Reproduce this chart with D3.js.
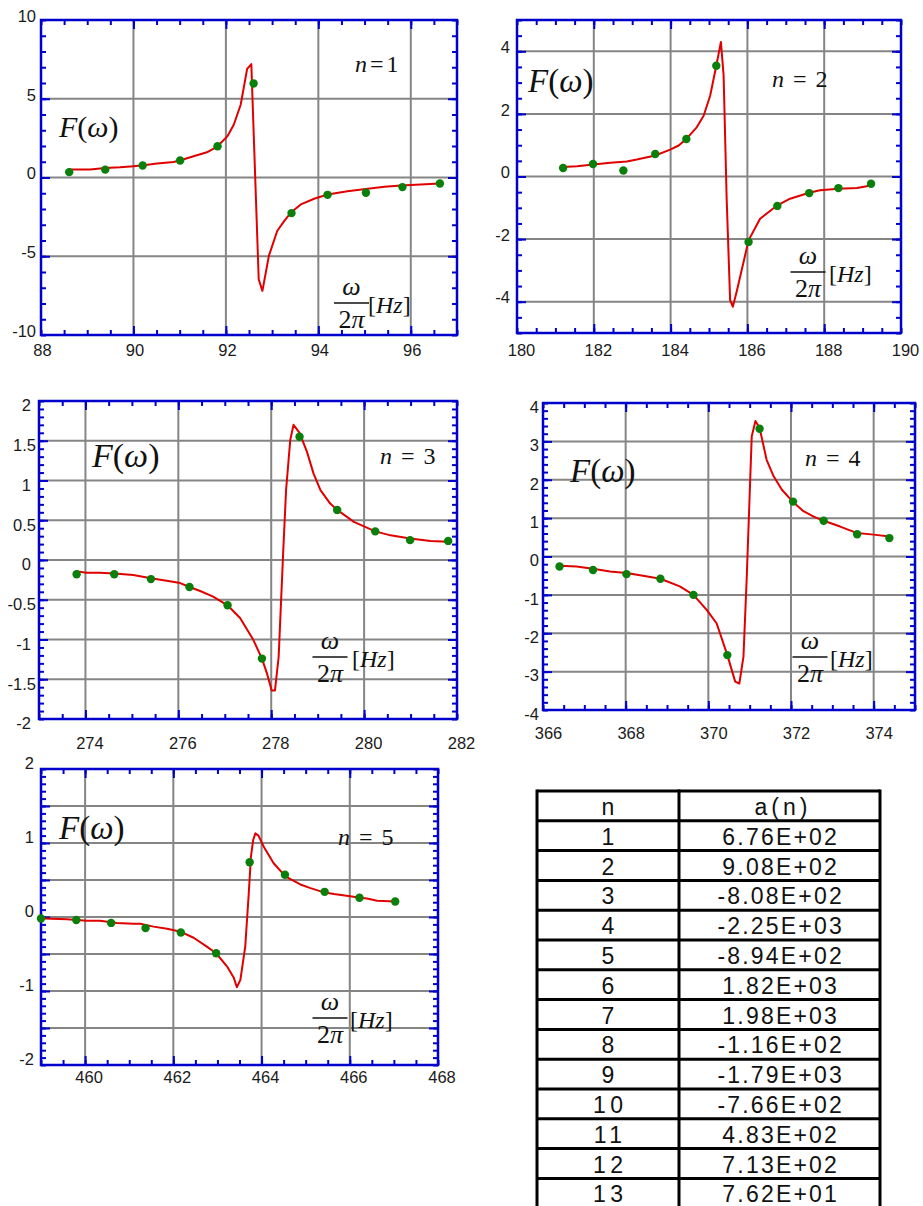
<!DOCTYPE html>
<html><head><meta charset="utf-8">
<script src="https://cdn.jsdelivr.net/npm/d3@7/dist/d3.min.js"></script>
<style>
html,body{margin:0;padding:0;background:#fff;}
svg{display:block;}
</style></head><body>
<svg id="chart" width="923" height="1206"></svg>
<script>
// ---------------- data ----------------
const p1DotX = [88.61, 89.39, 90.20, 91.01, 91.82, 92.60, 93.42, 94.20, 95.03, 95.82, 96.63];
const p1DotY = [0.34, 0.50, 0.76, 1.08, 1.98, 5.97, -2.26, -1.10, -0.97, -0.61, -0.38];
const p1FitX = [88.61, 89.06, 89.39, 89.71, 90.00, 90.22, 90.51, 90.87, 91.02, 91.30, 91.59, 91.82, 92.03, 92.17, 92.32, 92.46, 92.55, 92.71, 92.79, 92.93, 93.11, 93.26, 93.42, 93.62, 93.91, 94.20, 94.63, 95.07, 95.43, 95.79, 96.63];
const p1FitY = [0.51, 0.51, 0.61, 0.65, 0.72, 0.78, 0.89, 0.99, 1.10, 1.35, 1.60, 1.98, 2.61, 3.35, 4.62, 6.90, 7.20, -6.46, -7.20, -4.98, -3.40, -2.77, -2.19, -1.71, -1.35, -1.08, -0.87, -0.72, -0.59, -0.51, -0.38];

const p2DotX = [181.20, 181.98, 182.77, 183.60, 184.41, 185.19, 186.03, 186.78, 187.61, 188.37, 189.22];
const p2DotY = [0.27, 0.40, 0.19, 0.72, 1.20, 3.54, -2.09, -0.94, -0.53, -0.37, -0.23];
const p2FitX = [181.20, 181.56, 181.99, 182.43, 182.86, 183.12, 183.60, 183.99, 184.21, 184.41, 184.68, 184.86, 185.03, 185.19, 185.31, 185.38, 185.46, 185.55, 185.62, 185.72, 185.90, 186.03, 186.33, 186.78, 187.11, 187.61, 187.89, 188.37, 188.85, 189.22];
const p2FitY = [0.30, 0.33, 0.38, 0.44, 0.48, 0.54, 0.67, 0.86, 0.99, 1.20, 1.57, 1.94, 2.58, 3.54, 4.30, 3.24, -0.71, -3.95, -4.16, -3.68, -2.73, -2.04, -1.35, -0.92, -0.71, -0.52, -0.44, -0.39, -0.37, -0.29];

const p3DotX = [273.81, 274.62, 275.41, 276.24, 277.06, 277.80, 278.61, 279.42, 280.24, 280.99, 281.81];
const p3DotY = [-0.18, -0.18, -0.24, -0.34, -0.57, -1.24, 1.55, 0.63, 0.36, 0.25, 0.24];
const p3FitX = [273.79, 274.02, 274.31, 274.62, 275.03, 275.41, 275.75, 276.04, 276.24, 276.47, 276.75, 277.06, 277.33, 277.62, 277.80, 277.91, 278.01, 278.08, 278.16, 278.26, 278.32, 278.41, 278.48, 278.61, 278.77, 278.91, 279.06, 279.27, 279.42, 279.78, 280.24, 280.57, 280.99, 281.43, 281.81];
const p3FitY = [-0.14, -0.16, -0.16, -0.17, -0.19, -0.23, -0.26, -0.29, -0.34, -0.39, -0.46, -0.57, -0.73, -1.01, -1.24, -1.43, -1.64, -1.64, -1.22, 0.13, 0.88, 1.51, 1.70, 1.60, 1.36, 1.09, 0.88, 0.71, 0.63, 0.48, 0.36, 0.31, 0.27, 0.24, 0.23];

const p4DotX = [366.40, 367.21, 368.02, 368.84, 369.64, 370.46, 371.24, 372.05, 372.79, 373.60, 374.38];
const p4DotY = [-0.26, -0.35, -0.46, -0.58, -1.00, -2.57, 3.33, 1.43, 0.93, 0.58, 0.48];
const p4FitX = [366.40, 366.81, 367.21, 367.62, 368.02, 368.42, 368.84, 369.31, 369.64, 369.96, 370.20, 370.46, 370.65, 370.75, 370.85, 370.93, 371.05, 371.14, 371.24, 371.41, 371.58, 371.78, 372.04, 372.30, 372.55, 372.79, 373.19, 373.60, 374.00, 374.38];
const p4FitY = [-0.24, -0.26, -0.32, -0.39, -0.43, -0.50, -0.58, -0.78, -1.00, -1.39, -1.74, -2.57, -3.26, -3.31, -2.61, -0.52, 3.13, 3.53, 3.35, 2.52, 2.09, 1.74, 1.43, 1.18, 1.04, 0.93, 0.78, 0.61, 0.57, 0.52];

const p5DotX = [459.00, 459.80, 460.59, 461.37, 462.17, 462.97, 463.73, 464.53, 465.43, 466.22, 467.03];
const p5DotY = [-0.02, -0.04, -0.08, -0.15, -0.21, -0.49, 0.74, 0.57, 0.34, 0.26, 0.21];
const p5FitX = [459.06, 459.59, 460.04, 460.34, 460.72, 461.10, 461.25, 461.55, 461.86, 462.17, 462.46, 462.76, 462.97, 463.22, 463.37, 463.44, 463.52, 463.63, 463.71, 463.76, 463.81, 463.86, 463.93, 464.05, 464.27, 464.54, 464.88, 465.11, 465.43, 465.64, 466.01, 466.23, 466.39, 466.62, 467.03];
const p5FitY = [-0.02, -0.03, -0.05, -0.05, -0.08, -0.09, -0.09, -0.13, -0.16, -0.20, -0.28, -0.40, -0.49, -0.67, -0.82, -0.95, -0.85, -0.40, 0.32, 0.82, 1.04, 1.13, 1.10, 0.95, 0.73, 0.55, 0.44, 0.39, 0.33, 0.31, 0.28, 0.26, 0.25, 0.22, 0.21];

const p1XTicks = [88, 90, 92, 94, 96];
const p1YTicks = [-10, -5, 0, 5, 10];
const p2XTicks = [180, 182, 184, 186, 188, 190];
const p2YTicks = [-4, -2, 0, 2, 4];
const p3XTicks = [274, 276, 278, 280, 282];
const p3YTicks = [-2, -1.5, -1, -0.5, 0, 0.5, 1, 1.5, 2];
const p4XTicks = [366, 368, 370, 372, 374];
const p4YTicks = [-4, -3, -2, -1, 0, 1, 2, 3, 4];
const p5XTicks = [460, 462, 464, 466, 468];
const p5YTicks = [-2, -1, 0, 1, 2];

const panelN = ["1", "2", "3", "4", "5"];
const tableHead = ["n", "a(n)"];
const tableN = ["1","2","3","4","5","6","7","8","9","10","11","12","13"];
const tableA = ["6.76E+02","9.08E+02","-8.08E+02","-2.25E+03","-8.94E+02","1.82E+03","1.98E+03","-1.16E+02","-1.79E+03","-7.66E+02","4.83E+02","7.13E+02","7.62E+01"];

// ---------------- layout / style ----------------
const BLUE = "#0000cc", GRID = "#858585", RED = "#e00000", GREEN = "#0a7f0a";
const SANS = "'Liberation Sans', Arial, Helvetica, sans-serif";
const SERIF = "'Liberation Serif', 'Times New Roman', Times, serif";

const panels = [
  {fitX:p1FitX, fitY:p1FitY, dotX:p1DotX, dotY:p1DotY, xT:p1XTicks, yT:p1YTicks,
   l:41, r:457, t:20, b:335, xDom:[88,97], yDom:[-10,10], xMinor:0.5, yMinor:1,
   xGrid:[90,92,94,96], yGrid:[-5,0,5], xLabDy:15.5, xLabDx:1, yLabDy:-4, yGap:5, intDx:0,
   F:{x:59,y:137,s:30}, N:{x:355,y:72,ws:-3}, frac:{cx:351.5,y:303,hz:368}},
  {fitX:p2FitX, fitY:p2FitY, dotX:p2DotX, dotY:p2DotY, xT:p2XTicks, yT:p2YTicks,
   l:517, r:901, t:20, b:333, xDom:[180,190], yDom:[-5,5], xMinor:0.5, yMinor:0.5,
   xGrid:[182,184,186,188], yGrid:[-4,-2,0,2,4], xLabDy:17, xLabDx:4, yLabDy:-4, yGap:7, intDx:0,
   F:{x:528,y:92,s:33}, N:{x:772,y:87,ws:3}, frac:{cx:808,y:272,hz:829}},
  {fitX:p3FitX, fitY:p3FitY, dotX:p3DotX, dotY:p3DotY, xT:p3XTicks, yT:p3YTicks,
   l:39, r:457, t:401, b:719, xDom:[273,282], yDom:[-2,2], xMinor:0.5, yMinor:0.1,
   xGrid:[274,276,278,280], yGrid:[-1.5,-1,-0.5,0,0.5,1,1.5], xLabDy:24, xLabDx:4, yLabDy:4.5, yGap:3, intDx:-5,
   F:{x:92,y:467,s:34}, N:{x:380,y:464,ws:3}, frac:{cx:330,y:657,hz:352}},
  {fitX:p4FitX, fitY:p4FitY, dotX:p4DotX, dotY:p4DotY, xT:p4XTicks, yT:p4YTicks,
   l:543, r:915, t:403, b:710, xDom:[366,375], yDom:[-4,4], xMinor:0.5, yMinor:0.2,
   xGrid:[368,370,372,374], yGrid:[-3,-2,-1,0,1,2,3], xLabDy:23.5, xLabDx:5, yLabDy:4, yGap:4, intDx:0,
   F:{x:570,y:482,s:33}, N:{x:805,y:466,ws:3}, frac:{cx:810,y:657,hz:830}},
  {fitX:p5FitX, fitY:p5FitY, dotX:p5DotX, dotY:p5DotY, xT:p5XTicks, yT:p5YTicks,
   l:41, r:438, t:769, b:1065, xDom:[459,468], yDom:[-2,2], xMinor:0.5, yMinor:0.1,
   xGrid:[460,462,464,466], yGrid:[-1.5,-1,-0.5,0,0.5,1,1.5], xLabDy:12, xLabDx:3.5, yLabDy:-5.5, yGap:7, intDx:0,
   F:{x:59,y:839,s:33}, N:{x:338,y:845,ws:3}, frac:{cx:330,y:1018,hz:350}}
];

const svg = d3.select("#chart");

function steps(dom, step) {
  const n = Math.round((dom[1] - dom[0]) / step);
  return d3.range(n + 1).map(i => +(dom[0] + i * step).toFixed(6));
}

panels.forEach((P, pi) => {
  const g = svg.append("g");
  const x = d3.scaleLinear().domain(P.xDom).range([P.l, P.r]);
  const y = d3.scaleLinear().domain(P.yDom).range([P.b, P.t]);

  // grid
  g.append("g").selectAll("line").data(P.xGrid).join("line")
    .attr("x1", d => x(d)).attr("x2", d => x(d)).attr("y1", P.t).attr("y2", P.b)
    .attr("stroke", GRID).attr("stroke-width", 2);
  g.append("g").selectAll("line").data(P.yGrid).join("line")
    .attr("y1", d => y(d)).attr("y2", d => y(d)).attr("x1", P.l).attr("x2", P.r)
    .attr("stroke", GRID).attr("stroke-width", 2);

  // tick marks on all four sides, pointing inward
  const xMin = steps(P.xDom, P.xMinor), yMin = steps(P.yDom, P.yMinor);
  const xMaj = P.xGrid, yMaj = P.yGrid;
  function ticks(axisFn, scale, vals, len, tx, ty) {
    g.append("g").attr("transform", `translate(${tx},${ty})`)
      .call(axisFn(scale).tickValues(vals).tickSize(-len).tickFormat(""))
      .call(s => s.select(".domain").remove())
      .selectAll("line").attr("stroke", BLUE).attr("stroke-width", 2);
  }
  [[xMin,5],[xMaj,9]].forEach(([v,len]) => {
    ticks(d3.axisBottom, x, v, len, 0, P.b);
    ticks(d3.axisTop, x, v, len, 0, P.t);
  });
  [[yMin,5],[yMaj,9]].forEach(([v,len]) => {
    ticks(d3.axisLeft, y, v, len, P.l, 0);
    ticks(d3.axisRight, y, v, len, P.r, 0);
  });

  // frame
  g.append("rect").attr("x", P.l).attr("y", P.t).attr("width", P.r - P.l).attr("height", P.b - P.t)
    .attr("fill", "none").attr("stroke", BLUE).attr("stroke-width", 2.5);

  // tick labels
  const fs = 16.5;
  const xg = g.append("g").attr("transform", `translate(${P.xLabDx},${P.b})`)
    .call(d3.axisBottom(x).tickValues(P.xT).tickSize(0).tickPadding(P.xLabDy - 5.9).tickFormat(d => String(d)));
  xg.select(".domain").remove();
  xg.attr("font-size", fs).attr("font-family", SANS);
  xg.selectAll("text").attr("fill", "#1a1a1a");

  const yg = g.append("g").attr("transform", `translate(${P.l},${P.yLabDy})`)
    .call(d3.axisLeft(y).tickValues(P.yT).tickSize(0).tickPadding(P.yGap).tickFormat(d => String(d)));
  yg.select(".domain").remove();
  yg.attr("font-size", fs).attr("font-family", SANS);
  yg.selectAll("text").attr("fill", "#1a1a1a")
    .attr("dx", d => (String(d).indexOf(".") < 0 ? P.intDx : 0));

  // fitted curve
  const pts = d3.zip(P.fitX, P.fitY);
  g.append("path").datum(pts)
    .attr("d", d3.line().x(d => x(d[0])).y(d => y(d[1])))
    .attr("fill", "none").attr("stroke", RED).attr("stroke-width", 2)
    .attr("stroke-linejoin", "round");

  // measured points
  g.append("g").selectAll("circle").data(d3.zip(P.dotX, P.dotY)).join("circle")
    .attr("cx", d => x(d[0])).attr("cy", d => y(d[1])).attr("r", 4.2).attr("fill", GREEN);

  // F(omega)
  const tF = g.append("text").attr("x", P.F.x).attr("y", P.F.y)
    .attr("font-family", SERIF).attr("font-size", P.F.s).attr("fill", "#111");
  tF.append("tspan").attr("font-style", "italic").text("F");
  tF.append("tspan").text("(");
  tF.append("tspan").attr("font-style", "italic").text("ω");
  tF.append("tspan").text(")");

  // n = k
  const tN = g.append("text").attr("x", P.N.x).attr("y", P.N.y)
    .attr("font-family", SERIF).attr("font-size", 24).attr("fill", "#111")
    .attr("word-spacing", P.N.ws);
  tN.append("tspan").attr("font-style", "italic").text("n");
  tN.append("tspan").text(" = " + panelN[pi]);

  // omega / 2pi [Hz]
  const fr = P.frac;
  g.append("text").attr("x", fr.cx).attr("y", fr.y - 8.5).attr("text-anchor", "middle")
    .attr("font-family", SERIF).attr("font-size", 26).attr("font-style", "italic").attr("fill", "#111").text("ω");
  g.append("line").attr("x1", fr.cx - 17.5).attr("x2", fr.cx + 17.5).attr("y1", fr.y).attr("y2", fr.y)
    .attr("stroke", "#111").attr("stroke-width", 1.3);
  const t2 = g.append("text").attr("x", fr.cx).attr("y", fr.y + 25).attr("text-anchor", "middle")
    .attr("font-family", SERIF).attr("font-size", 26).attr("fill", "#111");
  t2.append("tspan").text("2");
  t2.append("tspan").attr("font-style", "italic").text("π");
  const th = g.append("text").attr("x", fr.hz).attr("y", fr.y + 10)
    .attr("font-family", SERIF).attr("font-size", 24).attr("fill", "#111");
  th.append("tspan").text("[");
  th.append("tspan").attr("font-style", "italic").text("Hz");
  th.append("tspan").text("]");
});

// ---------------- table ----------------
const T = {l:537, m:679, r:880, top:791, rowH:29.8};
const rows = [tableHead].concat(d3.zip(tableN, tableA));
const ty = d3.scaleLinear().domain([0, rows.length]).range([T.top, T.top + rows.length * T.rowH]);
const tg = svg.append("g");
tg.selectAll("line.h").data(d3.range(rows.length + 1)).join("line").attr("class", "h")
  .attr("x1", T.l).attr("x2", T.r).attr("y1", d => ty(d)).attr("y2", d => ty(d))
  .attr("stroke", "#000").attr("stroke-width", 3);
[T.l, T.m, T.r].forEach(xx => {
  tg.append("line").attr("x1", xx).attr("x2", xx).attr("y1", ty(0) - 1.5).attr("y2", ty(rows.length))
    .attr("stroke", "#000").attr("stroke-width", 3);
});
const cellText = tg.selectAll("g.row").data(rows).join("g").attr("class", "row");
cellText.append("text")
  .attr("x", (T.l + T.m) / 2 + 2.2).attr("y", (d, i) => ty(i) + 24)
  .attr("text-anchor", "middle").attr("font-family", SANS).attr("font-size", 23)
  .attr("letter-spacing", 4.5).attr("fill", "#111").text(d => d[0]);
cellText.append("text")
  .attr("x", (d, i) => (T.m + T.r) / 2 + (i === 0 ? 3.5 : 1.2)).attr("y", (d, i) => ty(i) + 24)
  .attr("text-anchor", "middle").attr("font-family", SANS).attr("font-size", 23)
  .attr("letter-spacing", (d, i) => i === 0 ? 4 : 2.2).attr("fill", "#111").text(d => d[1]);
</script>
</body></html>
